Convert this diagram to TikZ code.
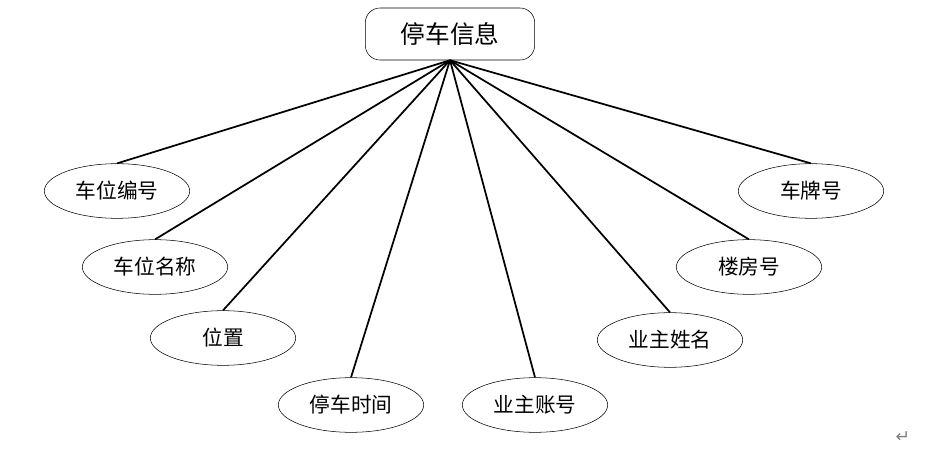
\documentclass[tikz,border=0pt]{standalone}
\usepackage{fontspec}
\newfontfamily\cjk{Noto Sans CJK SC}
\newfontfamily\symfont{DejaVu Sans}
\usepackage{tikz}
\usetikzlibrary{shapes.geometric}

\tikzset{
    entity/.style={draw,rounded corners=11pt,minimum width=127pt,minimum height=39pt,font=\cjk\fontsize{18.5}{20}\selectfont},
    attrib/.style={draw,ellipse,thin,minimum width=109pt,minimum height=41pt,font=\cjk\fontsize{15.5}{17}\selectfont},
    link/.style={line width=1.3pt}
}

\begin{document}
\begin{tikzpicture}[x=0.75pt,y=-0.75pt]
\useasboundingbox (0,0) rectangle (932,452);
\node[entity] (info) at (450,34) {停车信息};
% attributes
\node[attrib] (bianhao) at (117,191) {车位编号};
\node[attrib] (mingcheng) at (155,267) {车位名称};
\node[attrib] (weizhi) at (223,338) {位置};
\node[attrib] (shijian) at (351,405) {停车时间};
\node[attrib] (zhanghao) at (535,405) {业主账号};
\node[attrib] (xingming) at (670,340) {业主姓名};
\node[attrib] (loufang) at (749,267) {楼房号};
\node[attrib] (chepai) at (811,191) {车牌号};
\begin{scope}[link]
    \foreach \a in {bianhao,mingcheng,weizhi,shijian,zhanghao,xingming,loufang,chepai}
        \draw (info.south)--(\a.north);
\end{scope}
\node[text=gray,font=\symfont\fontsize{13}{14}\selectfont] (mark) at (903,437) {↵};
\end{tikzpicture}
\end{document}
